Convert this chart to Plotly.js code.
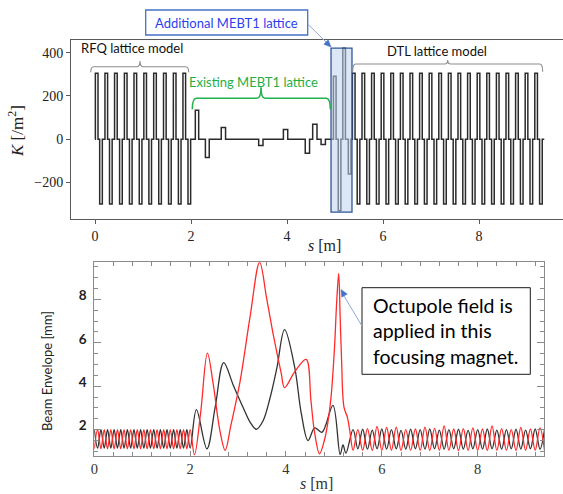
<!DOCTYPE html>
<html>
<head>
<meta charset="utf-8">
<script src="https://cdn.plot.ly/plotly-3.0.1.min.js"></script>
<style>html,body{margin:0;padding:0;background:#fff;}#chart{width:563px;height:494px;}</style>
</head>
<body>
<div id="chart"></div>
<script>
// ---------------- DATA ----------------
// Top panel: lattice elements (centre position s [m], strength K [/m^2], length [m])
const rfqS = [0.035,0.125,0.235,0.33,0.435,0.54,0.64,0.745,0.84,0.95,1.045,1.15,1.25,1.355,1.455,1.56,1.66,1.765,1.86,1.965];
const rfqK = [305,-300,305,-300,305,-300,305,-300,305,-300,305,-300,305,-300,305,-300,305,-300,305,-300];
const rfqL = [0.055,0.055,0.055,0.055,0.055,0.055,0.055,0.055,0.055,0.055,0.055,0.055,0.055,0.055,0.055,0.055,0.055,0.055,0.055,0.055];

const mebtS = [2.125,2.34,2.675,3.455,3.97,4.425,4.58,4.755];
const mebtK = [134,-85,54,-29,45,-65,69,-25];
const mebtL = [0.07,0.08,0.09,0.09,0.09,0.09,0.09,0.09];

const addS = [4.995,5.095,5.19,5.305];
const addK = [291,-331,421,-161];
const addL = [0.055,0.055,0.055,0.055];

const dtlS = [5.39,5.49,5.59,5.69,5.79,5.89,5.99,6.09,6.19,6.29,6.39,6.49,6.59,6.69,6.79,6.89,6.99,7.09,7.19,7.29,
              7.39,7.49,7.59,7.69,7.79,7.89,7.99,8.09,8.19,8.29,8.39,8.49,8.59,8.69,8.79,8.89,8.99,9.09,9.19,9.29];
const dtlK = [305,-300,305,-300,305,-300,305,-300,305,-300,305,-300,305,-300,305,-300,305,-300,305,-300,
              305,-300,305,-300,305,-300,305,-300,305,-300,305,-300,305,-300,305,-300,305,-300,305,-300];
const dtlL = [0.055,0.055,0.055,0.055,0.055,0.055,0.055,0.055,0.055,0.055,0.055,0.055,0.055,0.055,0.055,0.055,0.055,0.055,0.055,0.055,
              0.055,0.055,0.055,0.055,0.055,0.055,0.055,0.055,0.055,0.055,0.055,0.055,0.055,0.055,0.055,0.055,0.055,0.055,0.055,0.055];
const latticeStart = 0, latticeEnd = 9.36;

// Bottom panel: beam envelope [mm] (extrema and shape points)
const rfqEnvS   = [0,0.069,0.138,0.207,0.276,0.345,0.414,0.483,0.552,0.621,0.69,0.759,0.828,0.897,0.966,
                   1.034,1.103,1.172,1.241,1.31,1.379,1.448,1.517,1.586,1.655,1.724,1.793,1.862,1.931,2.0];
const rfqBlack  = [2.0,1.15,2.0,1.15,2.0,1.15,2.0,1.15,2.0,1.15,2.0,1.15,2.0,1.15,2.0,
                   1.15,2.0,1.15,2.0,1.15,2.0,1.15,2.0,1.15,2.0,1.15,2.0,1.15,2.0,1.15];
const rfqRed    = [1.12,2.0,1.12,2.0,1.12,2.0,1.12,2.0,1.12,2.0,1.12,2.0,1.12,2.0,1.12,
                   2.0,1.12,2.0,1.12,2.0,1.12,2.0,1.12,2.0,1.12,2.0,1.12,2.0,1.12,2.0];

const mebtBlackS = [2.13,2.35,2.52,2.70,2.90,3.11,3.25,3.38,3.52,3.66,3.81,3.97,4.18,4.32,4.46,4.60,4.75,4.98,5.13,5.19,5.25];
const mebtBlack  = [2.92,1.12,3.0,5.09,4.05,3.0,2.35,2.02,2.4,3.4,4.85,6.61,4.89,2.74,1.5,2.08,1.88,3.12,0.85,1.3,0.92];
const mebtRedS   = [2.09,2.22,2.36,2.48,2.62,2.73,2.85,3.04,3.25,3.45,3.60,3.75,3.90,3.97,4.18,4.42,4.52,4.59,4.70,4.80,4.87,4.94,5.01,5.06,5.10,5.13,5.16,5.21,5.28,5.33];
const mebtRed    = [0.84,2.8,5.53,4.12,1.97,1.05,2.2,4.2,7.2,9.71,8.0,6.2,4.6,3.94,4.66,5.24,3.35,1.97,0.89,1.5,2.28,3.5,5.7,7.97,9.2,7.2,5.2,3.04,2.58,1.97];

const dtlEnvS  = [5.4,5.5,5.6,5.7,5.8,5.9,6.0,6.1,6.2,6.3,6.4,6.5,6.6,6.7,6.8,6.9,7.0,7.1,7.2,7.3,7.4,
                  7.5,7.6,7.7,7.8,7.9,8.0,8.1,8.2,8.3,8.4,8.5,8.6,8.7,8.8,8.9,9.0,9.1,9.2,9.3,9.4];
const dtlBlack = [2.0,1.12,2.02,1.1,1.98,1.12,2.03,1.1,2.0,1.12,1.97,1.1,2.02,1.12,2.0,1.1,2.03,1.12,1.98,1.1,2.0,
                  1.12,2.02,1.1,1.97,1.12,2.0,1.1,2.03,1.12,1.98,1.1,2.0,1.12,2.02,1.1,1.98,1.12,2.03,1.1,2.1];
const dtlRed   = [1.05,2.0,1.05,2.05,1.04,2.15,1.05,2.1,1.05,2.12,1.04,2.0,1.05,2.03,1.05,2.12,1.04,2.06,1.05,2.17,1.05,
                  2.03,1.04,2.05,1.05,2.08,1.05,2.03,1.04,2.17,1.05,2.05,1.05,2.0,1.04,2.1,1.05,2.03,1.05,2.08,0.95];

// ---------------- BUILD ----------------
function stepTrace(sections){
  const xs=[latticeStart], ys=[0];
  sections.forEach(([S,K,L])=>{
    for(let i=0;i<S.length;i++){
      const a=S[i]-L[i]/2, b=S[i]+L[i]/2;
      xs.push(a,a,b,b); ys.push(0,K[i],K[i],0);
    }
  });
  xs.push(latticeEnd); ys.push(0);
  return {x:xs,y:ys};
}
const lat = stepTrace([[rfqS,rfqK,rfqL],[mebtS,mebtK,mebtL],[addS,addK,addL],[dtlS,dtlK,dtlL]]);

const blackX = rfqEnvS.concat(mebtBlackS, dtlEnvS);
const blackY = rfqBlack.concat(mebtBlack, dtlBlack);
const redX = rfqEnvS.concat(mebtRedS, dtlEnvS);
const redY = rfqRed.concat(mebtRed, dtlRed);

const W=563, H=494;
const px = x => x/W, py = y => 1 - y/H;
const SERIF = '"Liberation Serif", "DejaVu Serif", serif';
const SANS = 'Lato, "Noto Sans", sans-serif';

const traces = [
  {x:lat.x, y:lat.y, xaxis:'x', yaxis:'y', mode:'lines', line:{color:'#2a2a2a', width:1.5}, hoverinfo:'skip'},
  {x:blackX, y:blackY, xaxis:'x2', yaxis:'y2', mode:'lines', line:{color:'#333333', width:1.3, shape:'spline', smoothing:1}},
  {x:redX, y:redY, xaxis:'x2', yaxis:'y2', mode:'lines', line:{color:'#ff2b2b', width:1.3, shape:'spline', smoothing:1}}
];

function bracket(x0,x1,yh,yend,xc,ytip,r){
  return `M ${px(x0)} ${py(yend)} Q ${px(x0)} ${py(yh)} ${px(x0+r)} ${py(yh)} L ${px(xc-r)} ${py(yh)} Q ${px(xc)} ${py(yh)} ${px(xc)} ${py(ytip)} Q ${px(xc)} ${py(yh)} ${px(xc+r)} ${py(yh)} L ${px(x1-r)} ${py(yh)} Q ${px(x1)} ${py(yh)} ${px(x1)} ${py(yend)}`;
}
function arrowLine(x0,y0,x1,y1){
  return {type:'line', xref:'paper', yref:'paper', x0:px(x0), y0:py(y0), x1:px(x1), y1:py(y1), line:{color:'#8fa9dc', width:1}};
}
function arrowHead(xt,yt,xh,yh,size){
  const dx=xh-xt, dy=yh-yt, L=Math.hypot(dx,dy), ux=dx/L, uy=dy/L;
  const bx=xh-ux*size, by=yh-uy*size, nx=-uy*size*0.45, ny=ux*size*0.45;
  return {type:'path', xref:'paper', yref:'paper', fillcolor:'#4472c4', line:{color:'#4472c4', width:0.5},
    path:`M ${px(xh)} ${py(yh)} L ${px(bx+nx)} ${py(by+ny)} L ${px(bx-nx)} ${py(by-ny)} Z`};
}

const layout = {
  width:W, height:H, margin:{l:0,r:0,t:0,b:0}, showlegend:false,
  paper_bgcolor:'#ffffff', plot_bgcolor:'#ffffff',
  xaxis:{domain:[px(71),1], range:[-0.5,9.75], anchor:'y', showline:true, linecolor:'#5a5a5a', linewidth:1, mirror:true,
    ticks:'outside', ticklen:4, tickcolor:'#5a5a5a', tickvals:[0,2,4,6,8], showgrid:false, zeroline:false,
    tickfont:{family:SERIF, size:14, color:'#222'}},
  yaxis:{domain:[py(219.3),py(40)], range:[-370.8,458.6], anchor:'x', showline:true, linecolor:'#5a5a5a', linewidth:1, mirror:true,
    ticks:'outside', ticklen:4, tickcolor:'#5a5a5a', tickvals:[-200,0,200,400], showgrid:false, zeroline:false,
    tickfont:{family:SERIF, size:14, color:'#222'}},
  xaxis2:{domain:[px(94.3),px(544.3)], range:[0,9.39], anchor:'y2', showline:true, linecolor:'#8a8a8a', linewidth:1, mirror:'allticks',
    ticks:'inside', ticklen:5, tickcolor:'#8a8a8a', tick0:0, dtick:2, showgrid:false, zeroline:false,
    minor:{dtick:0.4, tick0:0, ticks:'inside', ticklen:4, tickcolor:'#8a8a8a', showgrid:false},
    tickfont:{family:SERIF, size:14.5, color:'#333'}},
  yaxis2:{domain:[py(455.5),py(262.3)], range:[0.81,9.71], anchor:'x2', showline:true, linecolor:'#8a8a8a', linewidth:1, mirror:'allticks',
    ticks:'inside', ticklen:7, tickcolor:'#8a8a8a', tickvals:[2,4,6,8], showgrid:false, zeroline:false,
    minor:{dtick:0.5, tick0:0, ticks:'inside', ticklen:4, tickcolor:'#8a8a8a', showgrid:false},
    ticklabelshift:-4, ticklabelstandoff:4,
    tickfont:{family:SANS, size:13.5, color:'#222', weight:'bold'}},
  shapes:[
    {type:'rect', xref:'x', yref:'y', x0:4.917, x1:5.354, y0:-338, y1:421, layer:'above',
     fillcolor:'rgba(190,212,238,0.55)', line:{color:'#2f5597', width:1.3}},
    {type:'rect', xref:'paper', yref:'paper', x0:px(145.7), x1:px(307.7), y0:py(35), y1:py(10),
     fillcolor:'#ffffff', line:{color:'#4472c4', width:1.3}},
    {type:'path', xref:'paper', yref:'paper', path:bracket(90.7,188.7,66.7,72.3,140,61,3), line:{color:'#8c8c8c', width:1.1}},
    {type:'path', xref:'paper', yref:'paper', path:bracket(192.3,330.3,98.3,109.3,261,87.3,4), line:{color:'#22b24c', width:1.6}},
    {type:'path', xref:'paper', yref:'paper', path:bracket(352.7,542.7,64,71.7,447.7,60,3), line:{color:'#8c8c8c', width:1.1}},
    {type:'rect', xref:'paper', yref:'paper', x0:px(362), x1:px(530.3), y0:py(374.3), y1:py(287.7),
     fillcolor:'#ffffff', line:{color:'#1a1a1a', width:1}},
    arrowLine(307.7,24,327,43), arrowHead(307.7,24,331,47,7),
    arrowLine(362,326,344,296), arrowHead(362,326,341,289.5,7)
  ],
  annotations:[
    {xref:'paper', yref:'paper', x:px(16), y:py(131), text:'<i>K</i> [/m<sup>2</sup>]', textangle:-90, showarrow:false,
     xanchor:'center', yanchor:'middle', font:{family:SERIF, size:17, color:'#222'}},
    {xref:'paper', yref:'paper', x:px(324), y:py(245), text:'<i>s</i> [m]', showarrow:false,
     xanchor:'center', yanchor:'middle', font:{family:SERIF, size:16, color:'#222'}},
    {xref:'paper', yref:'paper', x:px(47), y:py(371), text:'Beam Envelope [mm]', textangle:-90, showarrow:false,
     xanchor:'center', yanchor:'middle', font:{family:SANS, size:13, color:'#222'}},
    {xref:'paper', yref:'paper', x:px(316), y:py(483.5), text:'<i>s</i> [m]', showarrow:false,
     xanchor:'center', yanchor:'middle', font:{family:SERIF, size:16, color:'#333'}},
    {xref:'paper', yref:'paper', x:px(132), y:py(48.3), text:'RFQ lattice model', showarrow:false,
     xanchor:'center', yanchor:'middle', font:{family:SANS, size:13, color:'#111'}},
    {xref:'paper', yref:'paper', x:px(437), y:py(50.7), text:'DTL lattice model', showarrow:false,
     xanchor:'center', yanchor:'middle', font:{family:SANS, size:13, color:'#111'}},
    {xref:'paper', yref:'paper', x:px(253.7), y:py(81.7), text:'Existing MEBT1 lattice', showarrow:false,
     xanchor:'center', yanchor:'middle', font:{family:SANS, size:13, color:'#1faf45'}},
    {xref:'paper', yref:'paper', x:px(226.7), y:py(22.5), text:'Additional MEBT1 lattice', showarrow:false,
     xanchor:'center', yanchor:'middle', font:{family:SANS, size:13, color:'#2b3ff0'}},
    {xref:'paper', yref:'paper', x:px(371), y:py(331.3), text:'Octupole field is<br>applied in this<br>focusing magnet.', showarrow:false,
     xanchor:'left', yanchor:'middle', align:'left', font:{family:SANS, size:19.5, color:'#000'}}
  ]
};

Plotly.newPlot('chart', traces, layout, {staticPlot:true, displayModeBar:false});
</script>
</body>
</html>
